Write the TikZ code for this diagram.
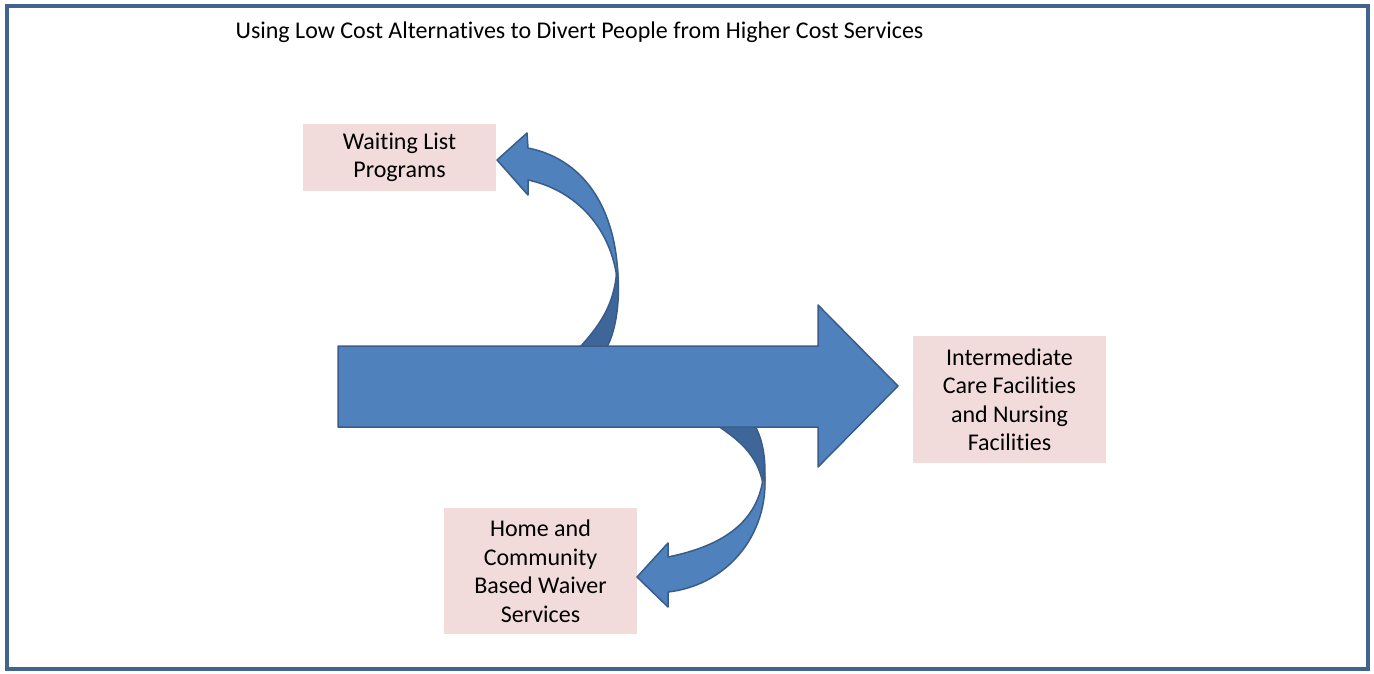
\documentclass[tikz,border=0pt]{standalone}
\usepackage{fontspec}
\setmainfont{Carlito}[Ligatures={NoCommon}]
\begin{document}
\definecolor{arrowfill}{HTML}{4F81BD}
\definecolor{arrowline}{HTML}{385D8A}
\definecolor{arrowback}{HTML}{3F6699}
\definecolor{boxfill}{HTML}{F2DCDB}
\definecolor{frameline}{HTML}{41648F}
\begin{tikzpicture}[x=1pt,y=-1pt,
  labelbox/.style={fill=boxfill,draw=none,inner sep=0pt,align=center,
    font=\fontsize{24}{28.5}\selectfont},
  shape3d/.style={fill=arrowfill,draw=arrowline,line width=1.5pt,line join=round},
  shapeback/.style={fill=arrowback,draw=arrowline,line width=1.5pt,line join=round}]
\useasboundingbox (0,0) rectangle (1374,673);
\draw[frameline,line width=4pt] (7,6) rectangle (1368,669);

\node[font=\fontsize{24}{28.5}\selectfont] (title) at (579.5,32)
  {Using Low Cost Alternatives to Divert People from Higher Cost Services};

% label boxes
\node[labelbox,minimum width=193pt,minimum height=67pt] (wait) at (399.5,157.5)
  {Waiting List\\Programs};
\node[labelbox,minimum width=193pt,minimum height=127pt] (icf) at (1009.5,399.5)
  {Intermediate\\Care Facilities\\and Nursing\\Facilities};
\node[labelbox,minimum width=193pt,minimum height=126pt] (hcbs) at (540.5,571)
  {Home and\\Community\\Based Waiver\\Services};

% upper curved arrow: back side, then front with head
\draw[shapeback] (580,347) .. controls (603,322) and (616,300) .. (617,265)
  .. controls (621,300) and (616,330) .. (607,347) -- cycle;
\draw[shape3d] (497,160) -- (527,133) -- (528,148)
  .. controls (588,160) and (619,215) .. (618,288)
  .. controls (614,228) and (575,190) .. (528,180)
  -- (528,195) -- cycle;

% lower curved arrow: back side, then front with head
\draw[shapeback] (718,426) .. controls (742,442) and (760,458) .. (764,490)
  .. controls (767,462) and (763,440) .. (755,426) -- cycle;
\draw[shape3d] (764,468) .. controls (772,530) and (730,585) .. (668,592)
  -- (668,607) -- (637,577) -- (668,543) -- (668,557)
  .. controls (722,546) and (762,522) .. (764,468) -- cycle;

% main straight arrow
\draw[shape3d] (338,346) -- (818,346) -- (818,305) -- (898,386)
  -- (818,467) -- (818,427) -- (338,427) -- cycle;
\end{tikzpicture}
\end{document}
